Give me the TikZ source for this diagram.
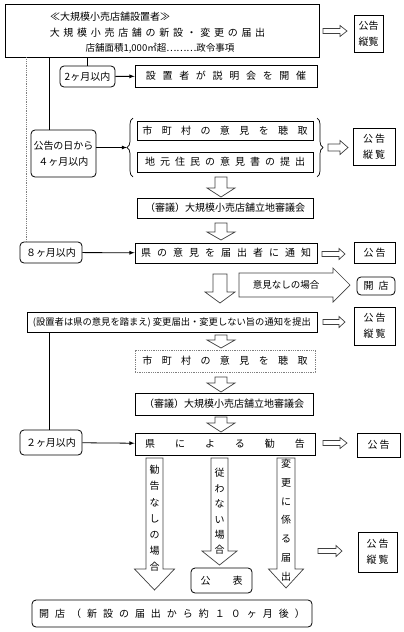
\documentclass[tikz,border=0pt]{standalone}
\usepackage{fontspec}
\setmainfont{Noto Sans CJK JP}
\usepackage{tikz}
\usetikzlibrary{positioning, decorations.pathreplacing, arrows}
\newcommand\tracked[2]{{\addfontfeature{LetterSpace=#1}#2}}
% block arrows: x, top, head top, tip, shaft half, head half
\newcommand\dnblock[6]{\draw[blk] ({#1-#5},#2) -- ({#1+#5},#2) -- ({#1+#5},#3) -- ({#1+#6},#3)
  -- (#1,#4) -- ({#1-#6},#3) -- ({#1-#5},#3) -- cycle;}
% left, head start, tip, y, shaft half, head half
\newcommand\rtblock[6]{\draw[blk] (#1,{#4-#5}) -- (#2,{#4-#5}) -- (#2,{#4-#6}) -- (#3,#4)
  -- (#2,{#4+#6}) -- (#2,{#4+#5}) -- (#1,{#4+#5}) -- cycle;}

\tikzset{
  txt/.style={inner sep=0pt, font=\fontsize{10}{16}\selectfont},
  box/.style={draw, line width=0.8pt, inner sep=0pt, align=center, font=\fontsize{10}{16}\selectfont},
  rbox/.style={box, rounded corners=4pt},
  dbox/.style={box, draw=gray, densely dotted},
  blk/.style={draw=black!75, line width=0.7pt, fill=white},
  brc/.style={decorate, decoration={brace, amplitude=6pt}, line width=0.7pt},
  vtxt/.style={inner sep=0pt, align=center, font=\fontsize{10}{#1}\selectfont},
  gline/.style={draw=gray, densely dotted, line width=0.8pt}
}

\begin{document}
\begin{tikzpicture}[x=1pt, y=-1pt, line width=0.8pt]
\useasboundingbox (0,0) rectangle (404,632);

% notice by the applicant
\node[box, minimum width=314pt, minimum height=53pt] (top) at (162,30.5) {};
\node[txt] (t1) at (110,17) {≪大規模小売店舗設置者≫};
\node[txt] (t2) at (157.5,33) {\tracked{37}{大規模小売店舗の新設・変更の届出}};
\node[txt, font=\fontsize{9.5}{11}\selectfont] (t3) at (160,48) {店舗面積1,000㎡超⋯⋯⋯政令事項};
\rtblock{323}{340}{347}{31}{2.5}{5.5}
\node[box, minimum width=29pt, minimum height=37pt] (kk1) at (368.5,33.5) {公告\\縦覧};

\node[rbox, minimum width=55pt, minimum height=21pt] (m2) at (87.5,76.5) {2ヶ月以内};
\node[box, minimum width=182pt, minimum height=22pt] (expl) at (226,76) {\tracked{67}{設置者が説明会を開催}};
\draw (top.south -| m2.north) -- (m2.north);
\draw[-latex] (m2) -- (expl);

% opinions
\node[rbox, minimum width=65pt, minimum height=47pt] (p4) at (63.5,153.5) {公告の日から\\４ヶ月以内};
\node[box, minimum width=176pt, minimum height=19pt] (cty) at (225,130.5) {\tracked{94}{市町村の意見を聴取}};
\node[box, minimum width=176pt, minimum height=20pt] (res) at (225,162) {\tracked{50}{地元住民の意見書の提出}};
\draw[brc] (133,177) -- (133,118);
\draw[brc] (317,118) -- (317,177);
\coordinate (bl) at (127,147.5);
\draw ([xshift=45pt]top.south west) coordinate (l2) -- (l2 |- p4.north);
\draw[-latex] (p4.east |- bl) -- (bl);
\rtblock{328}{340}{348}{147.5}{3.5}{7}
\node[box, minimum width=42pt, minimum height=37pt] (kk2) at (374,146.5) {\tracked{20}{公告}\\\tracked{20}{縦覧}};

\dnblock{221}{177}{188}{197}{6}{14}
\node[box, minimum width=176pt, minimum height=20pt] (sh1) at (225,208) {（審議）大規模小売店舗立地審議会};
\dnblock{221}{223}{232}{240}{6}{14}

% prefecture
\node[rbox, minimum width=62pt, minimum height=21pt] (m8) at (51,252.5) {８ヶ月以内};
\draw[gline] ([xshift=22pt]top.south west) coordinate (l1) -- (l1 |- m8.north);
\node[box, minimum width=182pt, minimum height=20pt] (ntf) at (226,253) {\tracked{60}{県の意見を届出者に通知}};
\draw[-latex] (m8) -- (ntf);
\rtblock{322}{339}{345}{254}{2.5}{5.5}
\node[box, minimum width=41pt, minimum height=21pt] (ko1) at (374.5,252.5) {\tracked{20}{公告}};

\dnblock{220}{274}{292}{303}{7}{15}
\rtblock{239}{333}{350}{285}{12}{17}
\node[txt, font=\fontsize{9.5}{11}\selectfont] (nop) at (286,285) {意見なしの場合};
\node[rbox, minimum width=38pt, minimum height=18pt] (op1) at (376,286) {\tracked{50}{開店}};

\node[box, minimum width=290pt, minimum height=20pt, font=\fontsize{9.3}{11}\selectfont] (chg) at (172,322) {(設置者は県の意見を踏まえ) 変更届出・変更しない旨の通知を提出};
\rtblock{323}{339}{345}{322}{2.5}{5.5}
\node[box, minimum width=41pt, minimum height=38pt] (kk3) at (374.5,326) {\tracked{20}{公告}\\\tracked{20}{縦覧}};
\dnblock{221}{335}{340}{348}{6}{14}
\node[dbox, minimum width=180pt, minimum height=22pt] (cty2) at (225,361) {\tracked{94}{市町村の意見を聴取}};
\dnblock{221}{377}{383}{392}{6}{14}
\node[box, minimum width=178pt, minimum height=22pt] (sh2) at (224,404) {（審議）大規模小売店舗立地審議会};
\dnblock{221}{417}{423}{432}{6}{14}

% recommendation
\node[rbox, minimum width=62pt, minimum height=25pt] (m2b) at (51,442.5) {２ヶ月以内};
\draw ([xshift=23pt]chg.south west) coordinate (l3) -- (l3 |- m2b.north);
\node[box, minimum width=180pt, minimum height=22pt] (kan) at (225,444) {\tracked{200}{県による勧告}};
\draw[-latex] (m2b) -- (kan);
\rtblock{323}{340}{347}{443}{2.5}{5.5}
\node[box, minimum width=43pt, minimum height=24pt] (ko2) at (378.5,445) {\tracked{20}{公告}};

\dnblock{154.5}{458}{569}{590}{8.5}{20}
\dnblock{219.5}{458}{551}{565}{8.5}{17.5}
\dnblock{286}{458}{569}{588}{9}{17.5}
\node[vtxt=16.2] (v1) at (154.5,518.5) {勧\\告\\な\\し\\の\\場\\合};
\node[vtxt=15.4] (v2) at (219.5,511.5) {従\\わ\\な\\い\\場\\合};
\node[vtxt=18.8] (v3) at (286,520) {変\\更\\に\\係\\る\\届\\出};

\node[rbox, minimum width=61pt, minimum height=25pt] (pub) at (221.5,580.5) {\tracked{220}{公表}};
\rtblock{318}{336}{342}{551}{2.5}{5.5}
\node[box, minimum width=39pt, minimum height=40pt] (kk4) at (377.5,552) {\tracked{20}{公告}\\\tracked{20}{縦覧}};
\node[rbox, minimum width=280pt, minimum height=27pt] (op2) at (172,613.5) {\tracked{60}{開店（新設の届出から約１０ヶ月後）}};
\end{tikzpicture}
\end{document}
